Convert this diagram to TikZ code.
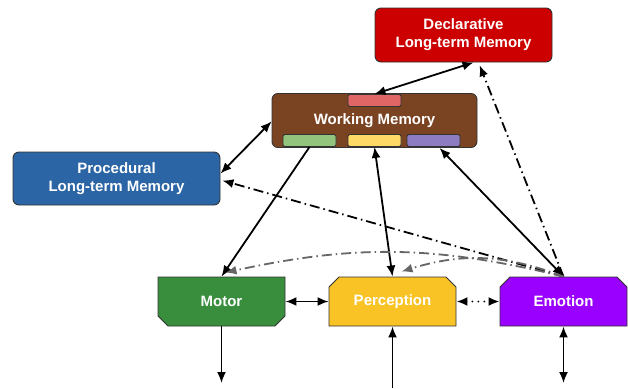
\documentclass[tikz,border=0pt]{standalone}
\usepackage{fontspec}
\setmainfont{Liberation Sans}
\usetikzlibrary{positioning}
\usetikzlibrary{calc,shapes.misc}
\usetikzlibrary{arrows.meta}
\definecolor{declcol}{HTML}{CC0000}
\definecolor{wmcol}{HTML}{7A4322}
\definecolor{proccol}{HTML}{2B65A5}
\definecolor{motorcol}{HTML}{388E3C}
\definecolor{perccol}{HTML}{F9C325}
\definecolor{emocol}{HTML}{9900FF}
\definecolor{redtabcol}{HTML}{E06666}
\definecolor{greentabcol}{HTML}{93C47D}
\definecolor{yellowtabcol}{HTML}{FFD966}
\definecolor{purpletabcol}{HTML}{8E7CC3}
\colorlet{edgecol}{black!80}
\tikzset{>={Latex[length=11pt,width=9pt]}}

\begin{document}
\begin{tikzpicture}[x=1pt, y=1pt,
    box/.style={draw=edgecol, line width=0.9pt, rounded corners=6pt, text=white,
      font=\fontsize{15}{18}\selectfont\bfseries, align=center, inner sep=0pt},
    tab/.style={draw=edgecol, line width=0.9pt, rounded corners=2pt,
      minimum width=53pt, minimum height=12pt, inner sep=0pt},
    unit/.style={chamfered rectangle, chamfered rectangle sep=5pt,
      draw=edgecol, line width=0.9pt, text=white, inner sep=0pt,
      font=\fontsize{15}{18}\selectfont\bfseries,
      minimum width=127pt, minimum height=49pt},
    link/.style={line width=1.8pt},
    dashdot/.style={line width=1.8pt, dash pattern=on 10pt off 4pt on 1.5pt off 4pt},
    greydash/.style={dashdot, draw=black!60, >={Latex[length=11pt,width=9pt,fill=black!60]}}]

% Frame
\useasboundingbox (0,0) rectangle (628,-388);

% Memories
\node[box, fill=declcol, minimum width=177pt, minimum height=54pt] (decl) at (463.5,-35)
  {Declarative\\Long-term Memory};
\node[box, fill=wmcol, minimum width=205pt, minimum height=54pt] (wm) at (374.5,-120.5)
  {Working Memory};
\node[box, fill=proccol, minimum width=207pt, minimum height=53pt] (proc) at (116.5,-178.5)
  {Procedural\\Long-term Memory};

% Buffers of working memory
\node[tab, fill=redtabcol, anchor=north] (declbuf) at ($(wm.north)+(0,-1)$) {};
\node[tab, fill=greentabcol, anchor=south] (motorbuf) at ($(wm.south)+(-65,1)$) {};
\node[tab, fill=yellowtabcol, anchor=south] (percbuf) at ($(wm.south)+(0,1)$) {};
\node[tab, fill=purpletabcol, anchor=south] (emobuf) at ($(wm.south)+(59,1)$) {};

% Modules
\node[unit, fill=motorcol, chamfered rectangle corners={south west,south east}] (motor) at (221.5,-301.5) {Motor};
\node[unit, fill=perccol, chamfered rectangle corners={north west,north east}] (perc) at (392.5,-301.5) {Perception};
\node[unit, fill=emocol, chamfered rectangle corners={north west,north east}] (emo) at (563.5,-301.5) {Emotion};

% Outside world
\coordinate (motorout) at (221.5,-383);
\coordinate (percin) at (392.5,-388);
\coordinate (emoout) at (563.5,-383);

% Solid links
\draw[link, <->] (declbuf.north) -- ($(decl.south)+(10,0)$);
\draw[link, <->] ($(proc.east)+(0,5)$) -- ($(wm.west)+(0,-1)$);
\draw[link, ->] (motorbuf.south) -- (motor.north);
\draw[link, <->] (percbuf.south) -- (perc.north);
\draw[link, <->] ($(emobuf.south)+(6,-1)$) -- (emo.north);
\draw[link, <->] (motor.east) -- (perc.west);
\draw[link, <->, line width=2pt, dash pattern=on 0pt off 6pt, line cap=round] (perc.east) -- (emo.west);
\draw[link, ->] (motor.south) -- (motorout);
\draw[link, ->] (percin) -- (perc.south);
\draw[link, <->] (emo.south) -- (emoout);

% Emotion to memories
\draw[dashdot, ->, shorten >=3pt] (emo.north) -- ($(decl.south)+(15,0)$);
\draw[dashdot, ->] (emo.north) -- ($(proc.east)+(2,-2)$);

% Emotion to modules
\draw[greydash, ->] (emo.north) to[bend right=13] ($(motor.north)+(4,4)$);
\draw[greydash, ->] (emo.north) to[bend right=19] ($(perc.north)+(9,5)$);
\end{tikzpicture}
\end{document}
